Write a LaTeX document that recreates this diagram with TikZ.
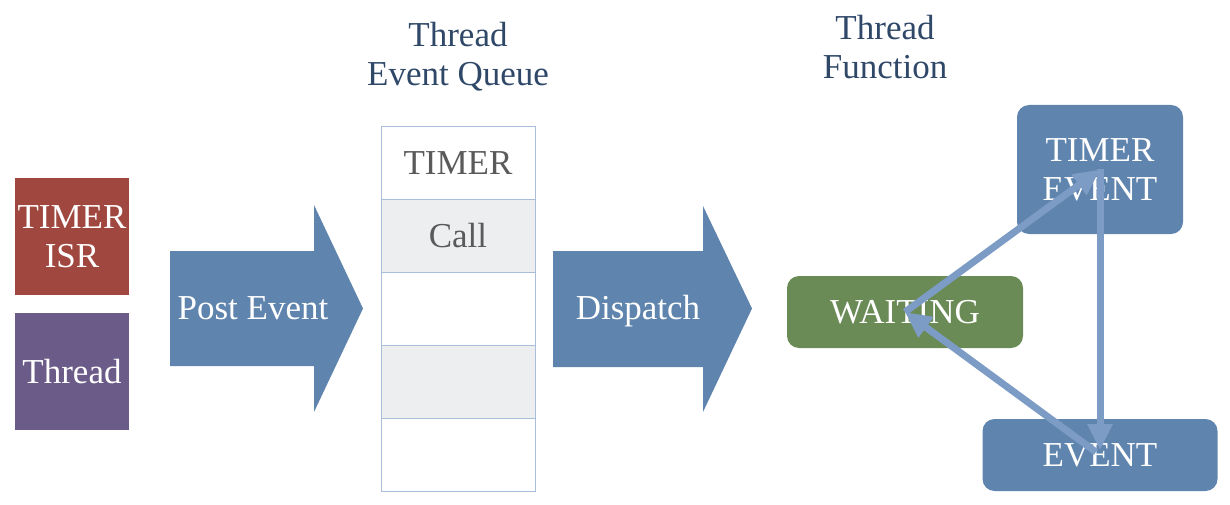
\documentclass[tikz,border=0pt]{standalone}
\usepackage{fontspec}
\setmainfont{Liberation Serif}
\usetikzlibrary{arrows.meta}
\definecolor{redbox}{HTML}{A0473F}
\definecolor{purplebox}{HTML}{6B5B88}
\definecolor{bluebox}{HTML}{5F84AD}
\definecolor{greenbox}{HTML}{6A8B55}
\definecolor{linkblue}{HTML}{7D9CC5}
\definecolor{titleblue}{HTML}{2F4868}
\definecolor{cellborder}{HTML}{A8BEDA}
\definecolor{cellgray}{HTML}{ECEEF0}
\definecolor{celltext}{HTML}{5A5A5A}
\begin{document}
\begin{tikzpicture}[x=1pt,y=-1pt,
 big/.style={font=\fontsize{35}{39}\selectfont, align=center},
 srcbox/.style={big, text=white, minimum width=114pt, minimum height=117pt, inner sep=0pt},
 cell/.style={big, text=celltext, draw=cellborder, line width=1pt, minimum width=154pt, minimum height=73pt, inner sep=0pt},
 state/.style={big, text=white, rounded corners=12pt, inner sep=0pt},
 title/.style={big, text=titleblue},
 bigarrow/.style={fill=bluebox},
 arrowtext/.style={big, text=white},
 link/.style={draw=linkblue, line width=7pt, -{Triangle[length=26pt,width=24pt]}}
]
\useasboundingbox (0,0) rectangle (1230,505);

% sources
\node[srcbox, fill=redbox] (isr) at (72,236.5) {TIMER\\ISR};
\node[srcbox, fill=purplebox] (thr) at (72,371.5) {Thread};

% post event arrow
\fill[bigarrow] (170,251) -- (314,251) -- (314,205) -- (363,308.5) -- (314,412) -- (314,366) -- (170,366) -- cycle;
\node[arrowtext] (post) at (253,308) {Post Event};

% queue
\node[title] (qtitle) at (458,57) {Thread\\Event Queue};
\node[cell] (q1) at (458,163) {TIMER};
\node[cell, fill=cellgray] (q2) at (458,235.5) {Call};
\node[cell] (q3) at (458,308.5) {};
\node[cell, fill=cellgray] (q4) at (458,381.5) {};
\node[cell] (q5) at (458,454.5) {};

% dispatch arrow
\fill[bigarrow] (553,251) -- (703,251) -- (703,206) -- (752,308.5) -- (703,412) -- (703,367) -- (553,367) -- cycle;
\node[arrowtext] (disp) at (638,311.5) {Dispatch};

% thread function
\node[title] (ftitle) at (885,47.5) {Thread\\Function};
\node[state, fill=bluebox, minimum width=166pt, minimum height=129pt] (te) at (1100,169.5) {TIMER\\EVENT};
\node[state, fill=greenbox, minimum width=236pt, minimum height=72pt] (wait) at (905,312) {WAITING};
\node[state, fill=bluebox, minimum width=235pt, minimum height=72pt] (ev) at (1100,455) {EVENT};

\draw[link] (wait.center) -- (te.center);
\draw[link, shorten >=5pt] (te.center) -- (ev.center);
\draw[link, shorten <=5pt] (ev.center) -- (wait.center);
\end{tikzpicture}
\end{document}
